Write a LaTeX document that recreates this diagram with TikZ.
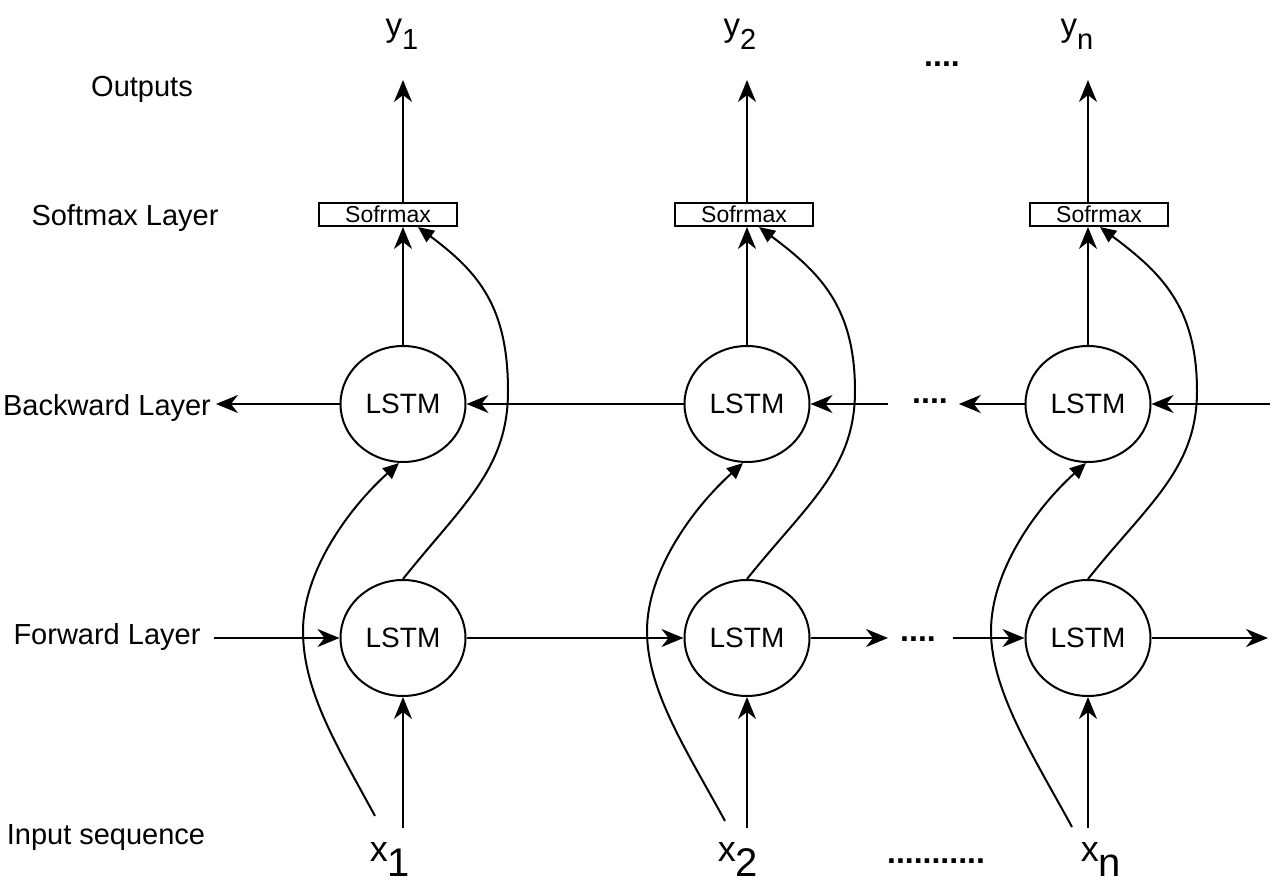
\documentclass[tikz,border=0pt]{standalone}
\usepackage{fontspec}
\setmainfont{Liberation Sans}
\usetikzlibrary{calc,arrows.meta,shapes.geometric}

\begin{document}
\begin{tikzpicture}[x=0.5pt, y=-0.5pt, line width=1pt,
		lstm/.style={draw, ellipse, minimum width=62.5pt, minimum height=58pt, inner sep=0pt, font=\fontsize{14}{16}\selectfont},
		smbox/.style={draw, rectangle, minimum width=69pt, minimum height=11.5pt, inner sep=0pt, font=\fontsize{11.5}{13}\selectfont},
		lbl/.style={anchor=base, inner sep=0pt, font=\fontsize{14.5}{17}\selectfont},
		dots/.style={anchor=base, inner sep=0pt, font=\fontsize{16}{19}\bfseries},
		ylbl/.style={anchor=base, inner sep=0pt, font=\fontsize{16.5}{19}\selectfont},
		xlbl/.style={anchor=base, inner sep=0pt, font=\fontsize{18}{21}\selectfont},
		arr/.style={-{Stealth[length=11pt, width=9pt, inset=3.5pt]}},
		blk/.style={-{Triangle[length=8pt, width=7pt]}}]
		%%%%% START %%%%%
		\useasboundingbox (0, 0) rectangle (1282, 887);
		
		% row labels
		\node[lbl] (lblO) at (142, 97) {Outputs};
		\node[lbl] (lblS) at (125, 226) {Softmax Layer};
		\node[lbl, inner xsep=2pt] (lblB) at (107, 416) {Backward Layer};
		\node[lbl, inner xsep=6.5pt] (lblF) at (107, 645) {Forward Layer};
		\node[lbl] (lblI) at (106, 845) {Input sequence};
		
		% cells
		\node[lstm] (b1) at (403, 404) {LSTM};
		\node[lstm] (f1) at (403, 638) {LSTM};
		\node[smbox] (sm1) at (388, 214.5) {Sofrmax};
		\node[lstm] (b2) at (747, 404) {LSTM};
		\node[lstm] (f2) at (747, 638) {LSTM};
		\node[smbox] (sm2) at (744, 214.5) {Sofrmax};
		\node[lstm] (b3) at (1088, 404) {LSTM};
		\node[lstm] (f3) at (1088, 638) {LSTM};
		\node[smbox] (sm3) at (1099, 214.5) {Sofrmax};
		
		% inputs and outputs
		\node[ylbl] (y1) at (402, 37) {y\raisebox{-6.5pt}{\fontsize{14.5}{16}\selectfont 1}};
		\node[ylbl] (y2) at (740, 37) {y\raisebox{-6.5pt}{\fontsize{14.5}{16}\selectfont 2}};
		\node[ylbl] (yn) at (1077, 37) {y\raisebox{-6.5pt}{\fontsize{14.5}{16}\selectfont n}};
		\node[xlbl] (x1) at (390, 862) {x\raisebox{-7.5pt}{\fontsize{20}{22}\selectfont 1}};
		\node[xlbl] (x2) at (738, 862) {x\raisebox{-7.5pt}{\fontsize{20}{22}\selectfont 2}};
		\node[xlbl] (xn) at (1101, 862) {x\raisebox{-7.5pt}{\fontsize{20}{22}\selectfont n}};
		
		\node[dots] (dY) at (942, 67) {....};
		\node[dots] (dB) at (930, 404) {....};
		\node[dots] (dF) at (918, 642) {....};
		\node[dots] (dX) at (936, 864) {...........};
		
		\coordinate (o1) at (403, 80);
		\coordinate (o2) at (747, 80);
		\coordinate (o3) at (1088, 80);
		\coordinate (i1) at (403, 828);
		\coordinate (i2) at (747, 828);
		\coordinate (i3) at (1088, 828);
		\coordinate (s1) at (375, 816);
		\coordinate (s2) at (725, 821);
		\coordinate (s3) at (1072, 827);
		
		% vertical flow
		\draw[arr] (i1) -- (f1.south);
		\draw[arr] (b1.north) -- (b1 |- sm1.south);
		\draw[arr] (b1 |- sm1.north) -- (o1);
		\draw[arr] (i2) -- (f2.south);
		\draw[arr] (b2.north) -- (b2 |- sm2.south);
		\draw[arr] (b2 |- sm2.north) -- (o2);
		\draw[arr] (i3) -- (f3.south);
		\draw[arr] (b3.north) -- (b3 |- sm3.south);
		\draw[arr] (b3 |- sm3.north) -- (o3);
		
		% curved links
		\draw[blk] (s1) .. controls +(-38, -70) and +(0, 60) .. ($(b1.south)+(-100, 168)$)
			.. controls +(0, -60) and +(-50, 45) .. ($(b1.south)+(-4, 0)$);
		\draw[blk] (f1.north) .. controls +(60, -75) and +(0, 78) .. ($(f1.north)+(105, -188)$)
			.. controls +(0, -85) and +(60, 45) .. ($(b1 |- sm1.south)+(15, 0)$);
		\draw[blk] (s2) .. controls +(-38, -70) and +(0, 60) .. ($(b2.south)+(-100, 168)$)
			.. controls +(0, -60) and +(-50, 45) .. ($(b2.south)+(-4, 0)$);
		\draw[blk] (f2.north) .. controls +(60, -75) and +(0, 78) .. ($(f2.north)+(108, -188)$)
			.. controls +(0, -85) and +(60, 45) .. ($(b2 |- sm2.south)+(12, 0)$);
		\draw[blk] (s3) .. controls +(-38, -70) and +(0, 60) .. ($(b3.south)+(-97, 168)$)
			.. controls +(0, -60) and +(-50, 45) .. ($(b3.south)+(-2, 0)$);
		\draw[blk] (f3.north) .. controls +(60, -75) and +(0, 78) .. ($(f3.north)+(109, -188)$)
			.. controls +(0, -85) and +(60, 45) .. ($(b3 |- sm3.south)+(12, 0)$);
		
		% backward layer
		\coordinate (bd) at (888, 404);
		\coordinate (be) at (1270, 404);
		\draw[arr] (b1.west) -- (lblB.east |- b1.west);
		\draw[arr] (b2.west) -- (b1.east);
		\draw[arr] (bd) -- (b2.east);
		\draw[arr] (b3.west) -- ([xshift=5pt]dB.east |- b3.west);
		\draw[arr] (be) -- (b3.east);
		
		% forward layer
		\coordinate (fd) at (888, 638);
		\coordinate (fs) at (953, 638);
		\coordinate (fe) at (1268, 638);
		\draw[arr] (lblF.east |- f1.west) -- (f1.west);
		\draw[arr] (f1.east) -- (f2.west);
		\draw[arr] (f2.east) -- (fd);
		\draw[arr] (fs) -- (f3.west);
		\draw[arr] (f3.east) -- (fe);
		
		%%%%% END %%%%%
	\end{tikzpicture}
\end{document}
